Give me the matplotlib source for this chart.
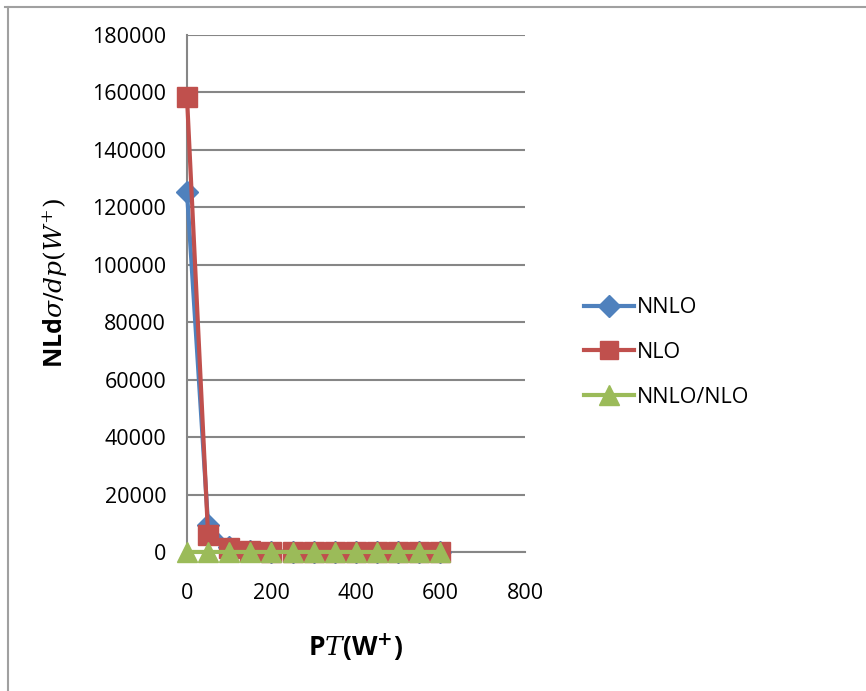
import matplotlib.pyplot as plt
from matplotlib.lines import Line2D

pt = [0, 50, 100, 150, 200, 250, 300, 350, 400, 450, 500, 550, 600]
nnlo = [125500, 9500, 1900, 450, 120, 40, 15, 6, 3, 2, 1, 0.5, 0.3]
nlo = [158500, 5800, 1300, 300, 90, 30, 12, 5, 2, 1, 0.6, 0.3, 0.2]
ratio = [0.79, 1.64, 1.46, 1.50, 1.33, 1.33, 1.25, 1.20, 1.50, 2.0, 1.67, 1.67, 1.5]

yticks = list(range(0, 180001, 20000))
xticks = [0, 200, 400, 600, 800]

blue = '#4F81BD'
red = '#C0504D'
green = '#9BBB59'
grid = '#868686'

plt.rcParams['font.family'] = ['Open Sans', 'DejaVu Sans']
plt.rcParams['mathtext.fontset'] = 'dejavuserif'

fig = plt.figure(figsize=(8.66, 6.91), dpi=100)
ax = fig.add_axes([0.2159, 0.2012, 0.3903, 0.7482])

ax.plot(pt, nnlo, color=blue, lw=3, marker='D', ms=11, clip_on=False, zorder=3)
ax.plot(pt, nlo, color=red, lw=3, marker='s', ms=14, clip_on=False, zorder=4)
ax.plot(pt, ratio, color=green, lw=3, marker='^', ms=14, clip_on=False, zorder=5)

ax.set_xlim(0, 800)
ax.set_ylim(0, 180000)
ax.set_xticks(xticks)
ax.set_yticks(yticks)
ax.tick_params(length=0, labelsize=15.5, pad=15, colors='black')
ax.tick_params(axis='x', pad=22)
ax.grid(axis='y', color=grid, lw=1.5, zorder=0)
ax.set_axisbelow(True)
for s in ['top', 'right']:
    ax.spines[s].set_visible(False)
for s in ['left', 'bottom']:
    ax.spines[s].set_color(grid)
    ax.spines[s].set_linewidth(1.5)

fig.text(0.064, 0.59, r'NLd$\sigma/dp(W^{+})$', rotation=90, ha='center', va='center',
         fontsize=18, fontweight='bold', family=['Open Sans', 'DejaVu Sans'])
fig.text(0.41, 0.063, r'P$\mathit{T}$(W$^{\mathbf{+}}$)', ha='center', va='center',
         fontsize=19, fontweight='bold', family=['Open Sans', 'DejaVu Sans'])

handles = [Line2D([], [], color=blue, lw=3, marker='D', ms=11),
           Line2D([], [], color=red, lw=3, marker='s', ms=13),
           Line2D([], [], color=green, lw=3, marker='^', ms=14)]
fig.legend(handles, ['NNLO', 'NLO', 'NNLO/NLO'], loc='center left',
           bbox_to_anchor=(0.652, 0.49), frameon=False, fontsize=15.5,
           handlelength=2.3, handletextpad=0.15, labelspacing=1.1)

# outer frame
fig.add_artist(Line2D([0.006, 1.0], [0.99, 0.99], color='#A0A0A0', lw=1.5))
fig.add_artist(Line2D([0.009, 0.009], [0.0, 0.99], color='#A0A0A0', lw=1.5))

fig.savefig('out.png', dpi=100)
